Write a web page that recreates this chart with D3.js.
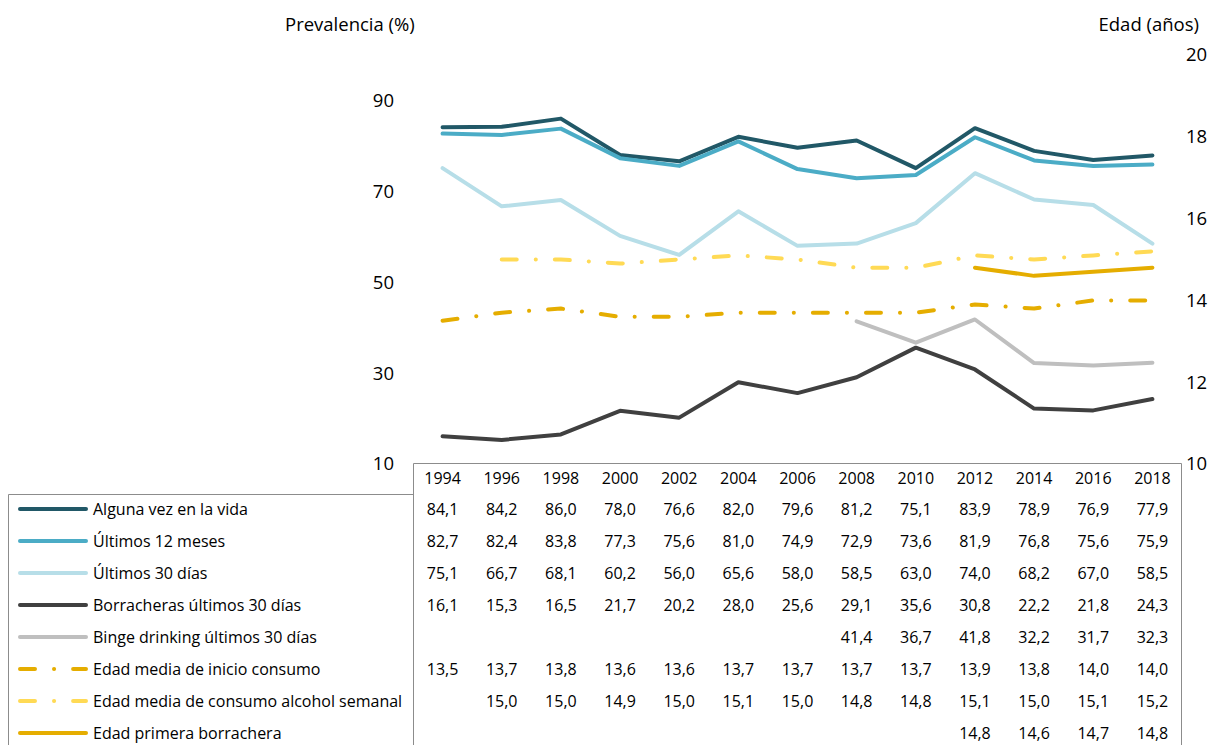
<!DOCTYPE html>
<html>
<head>
<meta charset="utf-8">
<script src="https://cdn.jsdelivr.net/npm/d3@7"></script>
<style>
  body { margin: 0; background: #fff; }
  text { font-family: "Open Sans", Lato, sans-serif; fill: #000; }
</style>
</head>
<body>
<svg width="1229" height="745"></svg>
<script>
var years = [1994, 1996, 1998, 2000, 2002, 2004, 2006, 2008, 2010, 2012, 2014, 2016, 2018];

// prevalence series (left axis, %)
var algunaVez   = [84.1, 84.2, 86.0, 78.0, 76.6, 82.0, 79.6, 81.2, 75.1, 83.9, 78.9, 76.9, 77.9];
var ultimos12   = [82.7, 82.4, 83.8, 77.3, 75.6, 81.0, 74.9, 72.9, 73.6, 81.9, 76.8, 75.6, 75.9];
var ultimos30   = [75.1, 66.7, 68.1, 60.2, 56.0, 65.6, 58.0, 58.5, 63.0, 74.0, 68.2, 67.0, 58.5];
var borracheras = [16.1, 15.3, 16.5, 21.7, 20.2, 28.0, 25.6, 29.1, 35.6, 30.8, 22.2, 21.8, 24.3];
var binge       = [null, null, null, null, null, null, null, 41.4, 36.7, 41.8, 32.2, 31.7, 32.3];

// age series (right axis, years)
var edadInicio   = [13.5, 13.7, 13.8, 13.6, 13.6, 13.7, 13.7, 13.7, 13.7, 13.9, 13.8, 14.0, 14.0];
var edadSemanal  = [null, 15.0, 15.0, 14.9, 15.0, 15.1, 15.0, 14.8, 14.8, 15.1, 15.0, 15.1, 15.2];
var edadBorrach  = [null, null, null, null, null, null, null, null, null, 14.8, 14.6, 14.7, 14.8];

var leftTicks = [10, 30, 50, 70, 90];
var rightTicks = [10, 12, 14, 16, 18, 20];

var series = [
  { name: "Alguna vez en la vida", values: algunaVez, color: "#215867", axis: "left", dash: null },
  { name: "Últimos 12 meses", values: ultimos12, color: "#4bacc6", axis: "left", dash: null },
  { name: "Últimos 30 días", values: ultimos30, color: "#b7dee8", axis: "left", dash: null },
  { name: "Borracheras últimos 30 días", values: borracheras, color: "#404040", axis: "left", dash: null },
  { name: "Binge drinking últimos 30 días", values: binge, color: "#bfbfbf", axis: "left", dash: null },
  { name: "Edad media de inicio consumo", values: edadInicio, color: "#e5ad00", axis: "right", dash: "15,19,0.1,19" },
  { name: "Edad media de consumo alcohol semanal", values: edadSemanal, color: "#ffda55", axis: "right", dash: "15,19,0.1,19" },
  { name: "Edad primera borrachera", values: edadBorrach, color: "#e5ad00", axis: "right", dash: null }
];

var svg = d3.select("svg");

var tableLeft = 413, tableRight = 1182;
var plotTop = 55, plotBottom = 464;

var x = d3.scaleBand()
    .domain(years)
    .range([tableLeft, tableRight]);

var yLeft = d3.scaleLinear().domain([10, 100]).range([plotBottom, plotTop]);
var yRight = d3.scaleLinear().domain([10, 20]).range([plotBottom, plotTop]);

// axes (no lines, labels only)
var leftAxis = svg.append("g")
    .attr("transform", "translate(394,0)")
    .call(d3.axisLeft(yLeft).tickValues(leftTicks).tickSize(0).tickPadding(0));
leftAxis.select(".domain").remove();
leftAxis.selectAll("text").style("font-size", "18.5px");

var rightAxis = svg.append("g")
    .attr("transform", "translate(1186,0)")
    .call(d3.axisRight(yRight).tickValues(rightTicks).tickSize(0).tickPadding(0));
rightAxis.select(".domain").remove();
rightAxis.selectAll("text").style("font-size", "18.5px");

svg.append("text")
    .attr("x", 285).attr("y", 31)
    .style("font-size", "18.5px")
    .text("Prevalencia (%)");

svg.append("text")
    .attr("x", 1199).attr("y", 31)
    .attr("text-anchor", "end")
    .style("font-size", "18.5px")
    .text("Edad (años)");

// lines
series.forEach(function(s) {
  var yScale = s.axis === "left" ? yLeft : yRight;
  var line = d3.line()
      .defined(function(d) { return d != null; })
      .x(function(d, i) { return x(years[i]) + x.bandwidth() / 2; })
      .y(function(d) { return yScale(d); });

  svg.append("path")
      .datum(s.values)
      .attr("d", line)
      .attr("fill", "none")
      .attr("stroke", s.color)
      .attr("stroke-width", 4)
      .attr("stroke-linecap", "round")
      .attr("stroke-linejoin", "round")
      .attr("stroke-dasharray", s.dash);
});

// data table
var headerY = 478, rowStart = 509, rowStep = 32;
var border = svg.append("g")
    .attr("fill", "none")
    .attr("stroke", "#8c8c8c")
    .attr("stroke-width", 1);
border.append("path").attr("d", "M" + (tableLeft + 0.5) + ",745V463.5H" + (tableRight - 0.5) + "V745");
border.append("path").attr("d", "M8.5,745V494.5H" + (tableLeft + 0.5));

svg.append("g").selectAll("text")
  .data(years)
  .enter()
  .append("text")
    .attr("x", function(d) { return x(d) + x.bandwidth() / 2; })
    .attr("y", headerY)
    .attr("dy", "0.35em")
    .attr("text-anchor", "middle")
    .style("font-size", "16px")
    .text(function(d) { return d; });

var fmt = function(v) { return v.toFixed(1).replace(".", ","); };

series.forEach(function(s, r) {
  var ry = rowStart + r * rowStep;
  var row = svg.append("g");

  row.append("line")
      .attr("x1", 20).attr("x2", 86)
      .attr("y1", ry).attr("y2", ry)
      .attr("stroke", s.color)
      .attr("stroke-width", 4)
      .attr("stroke-linecap", "round")
      .attr("stroke-dasharray", s.dash ? "15,19,0.1,19" : null);

  row.append("text")
      .attr("x", 93).attr("y", ry)
      .attr("dy", "0.35em")
      .style("font-size", "16px")
      .text(s.name);

  row.selectAll(".val")
    .data(s.values.map(function(v, i) { return { v: v, year: years[i] }; }).filter(function(d) { return d.v != null; }))
    .enter()
    .append("text")
      .attr("class", "val")
      .attr("x", function(d) { return x(d.year) + x.bandwidth() / 2; })
      .attr("y", ry)
      .attr("dy", "0.35em")
      .attr("text-anchor", "middle")
      .style("font-size", "16px")
      .text(function(d) { return fmt(d.v); });
});
</script>
</body>
</html>
